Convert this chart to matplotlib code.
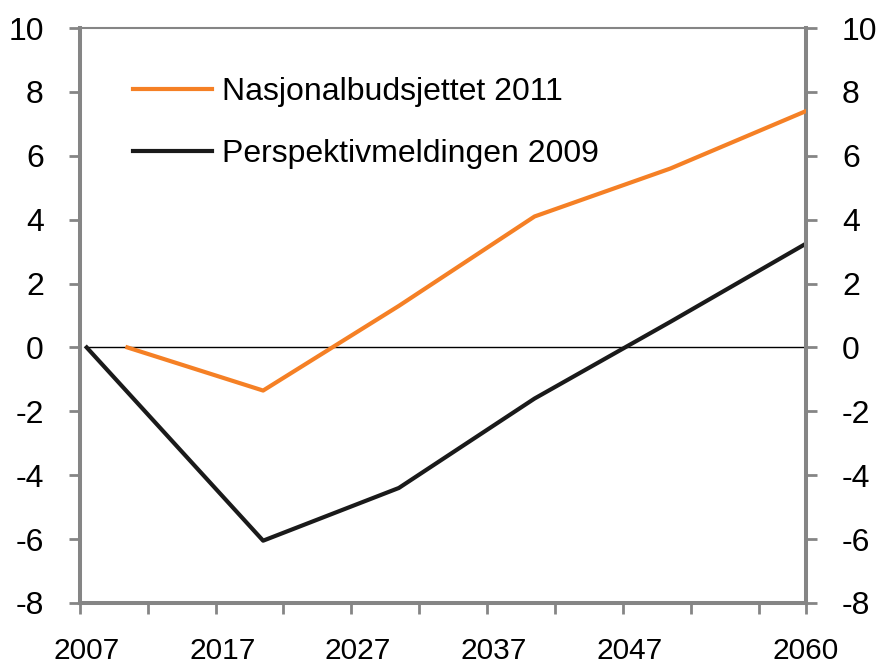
import matplotlib
matplotlib.use('Agg')
import matplotlib.pyplot as plt
import numpy as np

plt.rcParams['font.family'] = ['Liberation Sans', 'DejaVu Sans']

# Data
years_nb = [2010, 2020, 2030, 2040, 2050, 2060]
nasjonalbudsjettet = [0.0, -1.35, 1.3, 4.1, 5.6, 7.4]

years_pm = [2007, 2020, 2030, 2040, 2050, 2060]
perspektivmeldingen = [0.0, -6.05, -4.4, -1.6, 0.8, 3.25]

xtick_labels = [2007, 2017, 2027, 2037, 2047, 2060]
yticks = np.arange(-8, 11, 2)

orange = '#F58025'
dark = '#1a1a1a'
grey = '#858585'

fig = plt.figure(figsize=(8.78, 6.67), dpi=100)
ax = fig.add_axes([0.091, 0.096, 0.827, 0.862])

# Zero line
ax.plot([2007, 2060], [0, 0], color='black', lw=1.0, zorder=1)

ax.plot(years_nb, nasjonalbudsjettet, color=orange, lw=3.0, label='Nasjonalbudsjettet 2011', zorder=3)
ax.plot(years_pm, perspektivmeldingen, color=dark, lw=3.0, label='Perspektivmeldingen 2009', zorder=2)

ax.set_xlim(2006.5, 2060)
ax.set_ylim(-8, 10)

# Axis styling
for side in ['left', 'bottom', 'right']:
    ax.spines[side].set_color(grey)
    ax.spines[side].set_linewidth(2.9)
ax.spines['top'].set_color(grey)
ax.spines['top'].set_linewidth(1.5)

ax.set_yticks(yticks)
ax.set_yticklabels([str(v) for v in yticks])
ax.tick_params(axis='y', which='both', direction='out', length=8, width=2, color=grey,
               labelsize=23, left=True, right=True, labelleft=True, labelright=True, pad=18)

# ticks every five years, labels drawn separately
ax.set_xticks(list(np.arange(2006.5, 2060, 5)) + [2060])
ax.set_xticklabels([])
ax.tick_params(axis='x', which='major', direction='out', length=8, width=2, color=grey)
for yr in xtick_labels:
    ax.text(yr, -0.097, str(yr), transform=ax.get_xaxis_transform(), ha='center', va='baseline',
            fontsize=21.5)

leg = ax.legend(loc='upper left', bbox_to_anchor=(0.033, 0.965), frameon=False, fontsize=23,
                handlelength=2.5, handletextpad=0.3, labelspacing=1.0)

fig.savefig('out.png', dpi=100)
